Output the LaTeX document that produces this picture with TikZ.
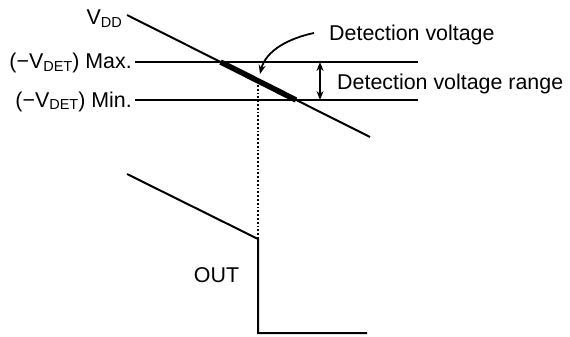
\documentclass[tikz,border=0pt]{standalone}
\usepackage{fontspec}
\setmainfont{Liberation Sans}
\usetikzlibrary{arrows.meta}
\newcommand{\lowsub}[1]{\raisebox{-2.5pt}{\fontsize{14.5}{14.5}\selectfont #1}}
\tikzset{
    thinline/.style={line width=2pt},
    label/.style={inner sep=0pt, font=\fontsize{21.4}{25}\selectfont}
}
\begin{document}
\begin{tikzpicture}[x=1pt,y=-1pt]
    \useasboundingbox (0,0) rectangle (570,337);
    % key points
    \coordinate (vddA) at (127,15);
    \coordinate (vddB) at (370,137);
    \coordinate (maxA) at (135,62);
    \coordinate (maxB) at (418,62);
    \coordinate (minA) at (135,100);
    \coordinate (minB) at (418,100);
    \coordinate (detA) at (220.6,62);
    \coordinate (detB) at (296,100);
    \coordinate (dotA) at (258,85);
    \coordinate (outA) at (127,174);
    \coordinate (outB) at (258,239);
    \coordinate (outC) at (258,333);
    \coordinate (outD) at (367,333);
    \coordinate (rngA) at (320,62);
    \coordinate (rngB) at (320,100);
    \coordinate (curA) at (314,33);
    \coordinate (curB) at (260,74);
    % VDD and threshold lines
    \draw[thinline] (vddA) -- (vddB);
    \draw[thinline] (maxA) -- (maxB);
    \draw[thinline] (minA) -- (minB);
    \draw[line width=5.5pt] (detA) -- (detB);
    \draw[line width=1.8pt, dotted] (dotA) -- (outB);
    % output
    \draw[thinline] (outA) -- (outB) -- (outC) -- (outD);
    % arrows
    \draw[line width=1.8pt, {Stealth[length=9pt,width=7pt]}-{Stealth[length=9pt,width=7pt]}] (rngA) -- (rngB);
    \draw[line width=1.8pt, -{Stealth[length=9pt,width=7pt]}] (curA) .. controls (290,38) and (266,50) .. (curB);
    % labels
    \node[label, anchor=base east] (vdd) at (122,25) {V\lowsub{DD}};
    \node[label, anchor=base east] (vmax) at (132,69) {(−V\lowsub{DET}) Max.};
    \node[label, anchor=base east] (vmin) at (132,107) {(−V\lowsub{DET}) Min.};
    \node[label, anchor=base west] (det) at (329,40.5) {Detection voltage};
    \node[label, anchor=base west] (rng) at (337,89) {Detection voltage range};
    \node[label] (out) at (216.5,275.5) {OUT};
\end{tikzpicture}
\end{document}
